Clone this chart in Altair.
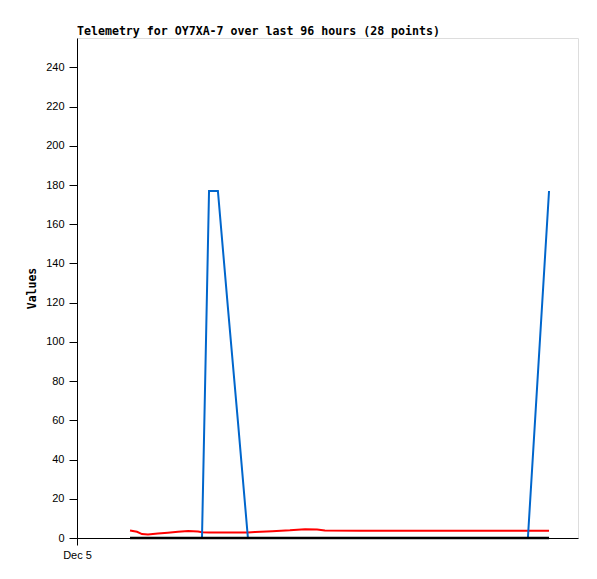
import altair as alt
import pandas as pd

hours = [10.16, 11.5, 12.45, 13.6, 15.5, 17.4, 19.35, 21.3, 23.2, 23.95,
         25.3, 27.0, 28.9, 30.85, 32.75, 34.1, 37.4, 40.8, 43.7, 46.0,
         47.5, 54.2, 61.9, 69.6, 77.2, 81.1, 86.4, 90.45]
blue = [0, 0, 0, 0, 0, 0, 0, 0, 0, 0,
        177, 177, 118, 59, 0, 0, 0, 0, 0, 0,
        0, 0, 0, 0, 0, 0, 0, 177]
red = [3.8, 3.2, 2.0, 1.8, 2.3, 2.7, 3.2, 3.6, 3.3, 2.9,
       2.8, 2.8, 2.8, 2.8, 2.8, 3.0, 3.4, 3.9, 4.5, 4.3,
       3.8, 3.7, 3.7, 3.7, 3.7, 3.7, 3.7, 3.7]
black = [0] * 28

df = pd.DataFrame({"h": hours, "blue": blue, "red": red, "black": black})

x = alt.X("h:Q", scale=alt.Scale(domain=[0, 96], nice=False),
          axis=alt.Axis(values=[0], labelExpr="'Dec 5'", title=None, grid=False,
                        labelFlush=False, labelAlign="center",
                        domainColor="#000", tickColor="#000", tickSize=7,
                        labelFont="Liberation Sans", labelFontSize=11,
                        labelColor="#000", labelPadding=4))
yscale = alt.Scale(domain=[0, 255], nice=False)
yaxis = alt.Axis(values=list(range(0, 241, 20)), title="Values", grid=False,
                 domainColor="#000", tickColor="#000", tickSize=8,
                 labelFont="Liberation Sans", labelFontSize=11, labelColor="#000",
                 labelPadding=5, titleFont="DejaVu Sans Mono", titleFontSize=11.5,
                 titleFontWeight="bold", titleColor="#000", titlePadding=8)

base = alt.Chart(df)
red_l = base.mark_line(color="#ff0000", strokeWidth=2).encode(
    x=x, y=alt.Y("red:Q", scale=yscale, axis=yaxis))
blue_l = base.mark_line(color="#0066cc", strokeWidth=2).encode(
    x=x, y=alt.Y("blue:Q", scale=yscale, axis=yaxis))
black_l = base.mark_line(color="#000000", strokeWidth=2.5).encode(
    x=x, y=alt.Y("black:Q", scale=yscale, axis=yaxis))

chart = alt.layer(red_l, blue_l, black_l).properties(
    width=501, height=500,
    autosize=alt.AutoSizeParams(type="none"),
    padding={"left": 69, "top": 30, "right": 11, "bottom": 33},
    title=alt.TitleParams("Telemetry for OY7XA-7 over last 96 hours (28 points)",
                          anchor="start", frame="group", font="DejaVu Sans Mono",
                          fontSize=11.6, fontWeight="bold", color="#000", offset=0),
).configure_view(stroke="#555", strokeWidth=1).configure(background="white")

chart.save("out.html", embed_options={"renderer": "svg", "actions": False})
